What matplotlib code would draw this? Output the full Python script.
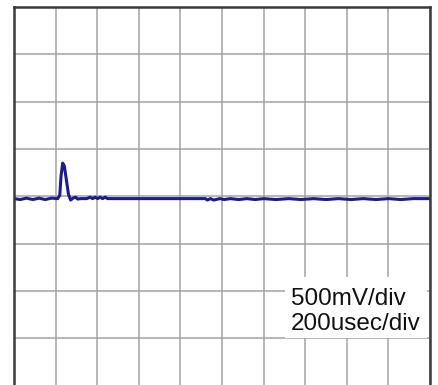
import numpy as np
import matplotlib
matplotlib.use('Agg')
import matplotlib.pyplot as plt
from matplotlib.patches import Rectangle

# Trace, in divisions (x: time div, y: volt div, 0 = centre)
trace_x = [0.0, 0.15, 0.3, 0.45, 0.6, 0.75, 0.9, 1.05, 1.10, 1.13, 1.17, 1.21,
           1.26, 1.31, 1.36, 1.42, 1.48, 1.53, 1.60, 1.75, 1.83, 1.89, 1.95,
           2.01, 2.07, 2.13, 2.19, 2.25, 4.60, 4.65, 4.72, 4.80, 4.95, 5.05,
           5.20, 5.40, 5.60, 5.80, 6.00, 6.30, 6.60, 6.90, 7.20, 7.50, 7.80,
           8.10, 8.40, 8.70, 9.00, 9.30, 9.60, 10.0]
trace_y = [-0.05, -0.07, -0.04, -0.07, -0.04, -0.07, -0.04, -0.05, 0.02, 0.42,
           0.70, 0.64, 0.34, 0.04, -0.08, -0.04, -0.02, -0.06, -0.05, -0.05,
           -0.02, -0.05, -0.02, -0.05, -0.02, -0.05, -0.02, -0.05, -0.05, -0.08,
           -0.05, -0.08, -0.05, -0.07, -0.05, -0.07, -0.05, -0.07, -0.05, -0.07,
           -0.05, -0.07, -0.05, -0.07, -0.05, -0.07, -0.05, -0.07, -0.05, -0.07,
           -0.05, -0.05]

volt_label = '500mV/div'
time_label = '200usec/div'

fig = plt.figure(figsize=(4.39, 3.85), dpi=100)
ax = fig.add_axes([14 / 439, -0.5 / 385, 416 / 439, 378.5 / 385])

ax.set_xlim(0, 10)
ax.set_ylim(-4, 4)
ax.set_xticks(np.arange(0, 11, 1))
ax.set_yticks(np.arange(-4, 5, 1))
ax.set_axisbelow(True)
ax.grid(True, color='#a3a3a3', linewidth=1.1)
ax.tick_params(left=False, bottom=False, labelleft=False, labelbottom=False)
for s in ax.spines.values():
    s.set_color('#3a3a3a')
    s.set_linewidth(1.8)

ax.plot(trace_x, trace_y, color='#1c1c8c', linewidth=2.2)

# white box behind the scale labels
ax.add_patch(Rectangle((6.51, -3.0), 3.42, 1.29, facecolor='white',
                       edgecolor='none', zorder=1))
ax.text(6.66, -2.30, volt_label, fontsize=17.5, family='Liberation Sans',
        color='#111111', ha='left', va='baseline', zorder=3)
ax.text(6.66, -2.83, time_label, fontsize=17.5, family='Liberation Sans',
        color='#111111', ha='left', va='baseline', zorder=3)

fig.savefig('out.png', dpi=100)
